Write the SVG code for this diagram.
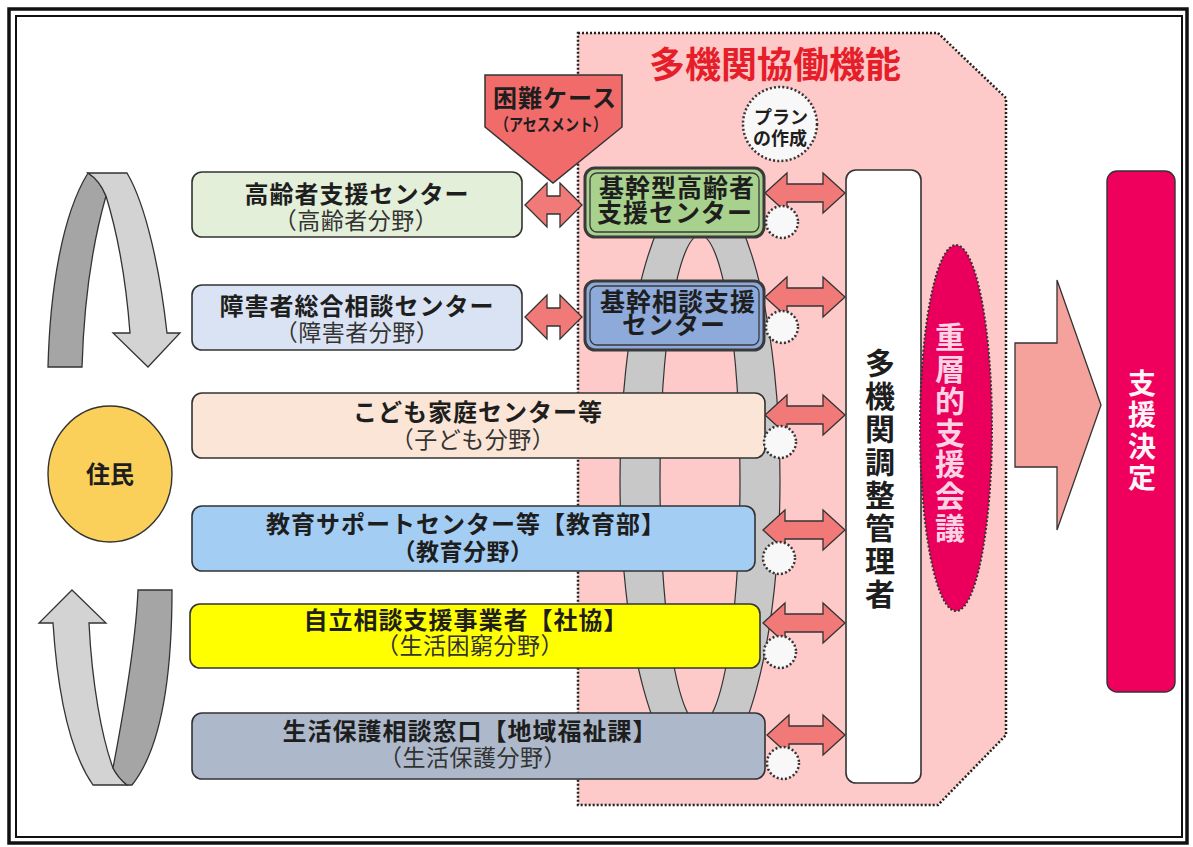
<svg xmlns="http://www.w3.org/2000/svg" width="1193" height="847" viewBox="0 0 1193 847">
<style>
text{font-family:"Noto Sans CJK JP","Noto Sans",sans-serif;text-anchor:middle}
.b{font-weight:700;fill:#1e1e1e}
.l1{font-size:24px;font-weight:700;letter-spacing:1px;fill:#1e1e1e}
.l2{font-size:23px;font-weight:400;letter-spacing:0.5px;fill:#333}
.l2b{font-size:23px;font-weight:700;letter-spacing:0.5px;fill:#1e1e1e}
.k{font-size:25px;font-weight:700;letter-spacing:1px;fill:#1e1e1e}
.v{writing-mode:vertical-rl;font-weight:700}
.box{stroke:#333;stroke-width:1.6}
.darr{fill:#f17a78;stroke:#333;stroke-width:1.3}
.dc{fill:#f8f8f8;stroke:#333;stroke-width:2.5;stroke-dasharray:2 2.2}
.rib{stroke:#333;stroke-width:1.3}
</style>
<rect x="0" y="0" width="1193" height="847" fill="#fff"/>
<rect x="9" y="9" width="1178" height="834" fill="none" stroke="#111" stroke-width="3.5"/>
<rect x="16" y="16" width="1166" height="821" fill="none" stroke="#111" stroke-width="2"/>

<g id="region">
<polygon points="578,33 938,33 1006,98 1006,735 938,805 578,805" fill="#fdc9c9" stroke="#222" stroke-width="2.5" stroke-dasharray="2 2"/>
<text x="775" y="78" style="font-size:36px;font-weight:700;fill:#e61e2a">多機関協働機能</text>
</g>

<g id="ring">
<ellipse cx="700" cy="480" rx="80" ry="295" fill="#c8c8c8" stroke="#333" stroke-width="1.2"/>
<ellipse cx="700" cy="480" rx="40" ry="245" fill="#fdc9c9" stroke="#333" stroke-width="1.2"/>
</g>

<g id="connectors">
<path class="rib" fill="#a5a5a5" d="M48,367 C50,290 62,215 88,173 C96,178 102,186 106,196 C92,245 84,300 82,367 Z"/>
<path class="rib" fill="#d3d3d3" d="M88,173 L127,173 C146,205 160,270 167,333 L180,333 L148,367 L113,333 L130,333 C126,280 118,235 106,196 C102,186 96,178 88,173 Z"/>
<path class="rib" fill="#d3d3d3" d="M72,590 L106,623 L89,623 C92,685 102,738 113,768 C117,776 122,781 127,785 L93,785 C72,755 58,700 53,623 L39,623 Z"/>
<path class="rib" fill="#a5a5a5" d="M138,590 L172,590 C172,680 160,750 132,785 L127,785 C122,781 117,776 113,768 C125,705 136,640 138,590 Z"/>
<path class="darr" d="M525,205 L547,183 L547,196 L560,196 L560,183 L582,205 L560,227 L560,214 L547,214 L547,227 Z"/>
<path class="darr" d="M525,317 L547,295 L547,308 L560,308 L560,295 L582,317 L560,339 L560,326 L547,326 L547,339 Z"/>
<path class="darr" d="M765,193 L787,173 L787,184 L823,184 L823,173 L845,193 L823,213 L823,202 L787,202 L787,213 Z"/>
<path class="darr" d="M765,297 L787,277 L787,288 L823,288 L823,277 L845,297 L823,317 L823,306 L787,306 L787,317 Z"/>
<path class="darr" d="M765,415 L787,395 L787,406 L823,406 L823,395 L845,415 L823,435 L823,424 L787,424 L787,435 Z"/>
<path class="darr" d="M763,530 L785,510 L785,521 L823,521 L823,510 L845,530 L823,550 L823,539 L785,539 L785,550 Z"/>
<path class="darr" d="M763,623 L785,603 L785,614 L823,614 L823,603 L845,623 L823,643 L823,632 L785,632 L785,643 Z"/>
<path class="darr" d="M767,735 L789,715 L789,726 L823,726 L823,715 L845,735 L823,755 L823,744 L789,744 L789,755 Z"/>
<path d="M1015,343 L1057,343 L1057,280 L1101,405 L1057,530 L1057,467 L1015,467 Z" fill="#f6a29c" stroke="#333" stroke-width="1.3"/>
</g>

<g id="n-kouyou">
<rect class="box" x="192" y="172" width="330" height="65" rx="10" fill="#e3efd9"/>
<text><tspan class="l1" x="357" y="203">高齢者支援センター</tspan><tspan class="l2" x="356" y="229">（高齢者分野）</tspan></text>
</g>
<g id="n-shougai">
<rect class="box" x="192" y="285" width="330" height="65" rx="10" fill="#dae3f3"/>
<text><tspan class="l1" x="357" y="315">障害者総合相談センター</tspan><tspan class="l2" x="357" y="341">（障害者分野）</tspan></text>
</g>
<g id="n-kodomo">
<rect class="box" x="192" y="393" width="573" height="65" rx="10" fill="#fbe5d6"/>
<text><tspan class="l1" x="478" y="421">こども家庭センター等</tspan><tspan class="l2" x="473" y="448">（子ども分野）</tspan></text>
</g>
<g id="n-kyouiku">
<rect class="box" x="192" y="506" width="563" height="65" rx="10" fill="#a4cdf3"/>
<text><tspan class="l1" x="466" y="533">教育サポートセンター等【教育部】</tspan><tspan class="l2b" x="463" y="560">（教育分野）</tspan></text>
</g>
<g id="n-jiritsu">
<rect class="box" x="190" y="604" width="570" height="64" rx="10" fill="#ffff00"/>
<text><tspan class="l1" x="466" y="629">自立相談支援事業者【社協】</tspan><tspan class="l2" x="470" y="654">（生活困窮分野）</tspan></text>
</g>
<g id="n-seikatsu">
<rect class="box" x="192" y="713" width="573" height="66" rx="10" fill="#adb9ca"/>
<text><tspan class="l1" x="470" y="740">生活保護相談窓口【地域福祉課】</tspan><tspan class="l2" x="473" y="766">（生活保護分野）</tspan></text>
</g>

<g id="n-kikan-kourei">
<rect x="585" y="168" width="179" height="69" rx="10" fill="#a9d18e" stroke="#3a3a3a" stroke-width="3"/>
<rect x="590" y="173" width="169" height="59" rx="7" fill="none" stroke="#3a3a3a" stroke-width="1.3"/>
<text class="k"><tspan x="677" y="197">基幹型高齢者</tspan><tspan x="675" y="222">支援センター</tspan></text>
</g>
<g id="n-kikan-soudan">
<rect x="585" y="281" width="179" height="69" rx="10" fill="#8eaadb" stroke="#3a3a3a" stroke-width="3"/>
<rect x="590" y="286" width="169" height="59" rx="7" fill="none" stroke="#3a3a3a" stroke-width="1.3"/>
<text class="k"><tspan x="678" y="311">基幹相談支援</tspan><tspan x="674" y="334">センター</tspan></text>
</g>

<g id="n-konnan">
<polygon points="485,75 622,75 622,127 553,183 485,127" fill="#f26b6b" stroke="#333" stroke-width="1.5"/>
<text class="b"><tspan x="555" y="107" style="font-size:24px;letter-spacing:1px">困難ケース</tspan><tspan x="551" y="131" style="font-size:17px" textLength="112" lengthAdjust="spacingAndGlyphs">（アセスメント）</tspan></text>
</g>

<g id="n-plan">
<circle class="dc" cx="780" cy="124" r="37"/>
<text class="b" style="font-size:18px"><tspan x="781" y="124">プラン</tspan><tspan x="780" y="145">の作成</tspan></text>
</g>

<g id="dotted-circles">
<circle class="dc" cx="782" cy="222" r="16"/>
<circle class="dc" cx="782" cy="327" r="16"/>
<circle class="dc" cx="780" cy="442" r="16"/>
<circle class="dc" cx="779" cy="558" r="16"/>
<circle class="dc" cx="780" cy="652" r="16"/>
<circle class="dc" cx="783" cy="763" r="16"/>
</g>

<g id="n-kanrisha">
<rect x="846" y="170" width="75" height="613" rx="10" fill="#fff" stroke="#333" stroke-width="1.6"/>
<text class="v" x="880" y="480" style="font-size:30px;letter-spacing:3px;fill:#1e1e1e">多機関調整管理者</text>
</g>

<g id="n-kaigi">
<ellipse cx="956" cy="428" rx="36" ry="183" fill="#ea005c" stroke="#333" stroke-width="2" stroke-dasharray="2 2"/>
<text class="v" x="950" y="433" style="font-size:30px;letter-spacing:1.7px;fill:#fbd3e3">重層的支援会議</text>
</g>

<g id="n-kettei">
<rect x="1107" y="171" width="68" height="521" rx="10" fill="#ee005c" stroke="#333" stroke-width="1.4"/>
<text class="v" x="1142" y="432" style="font-size:28px;letter-spacing:3.3px;fill:#fff4f8">支援決定</text>
</g>

<g id="n-jumin">
<ellipse cx="110" cy="474" rx="62" ry="68" fill="#fbd05a" stroke="#333" stroke-width="1.4"/>
<text class="b" x="110" y="483" style="font-size:24px">住民</text>
</g>
</svg>
